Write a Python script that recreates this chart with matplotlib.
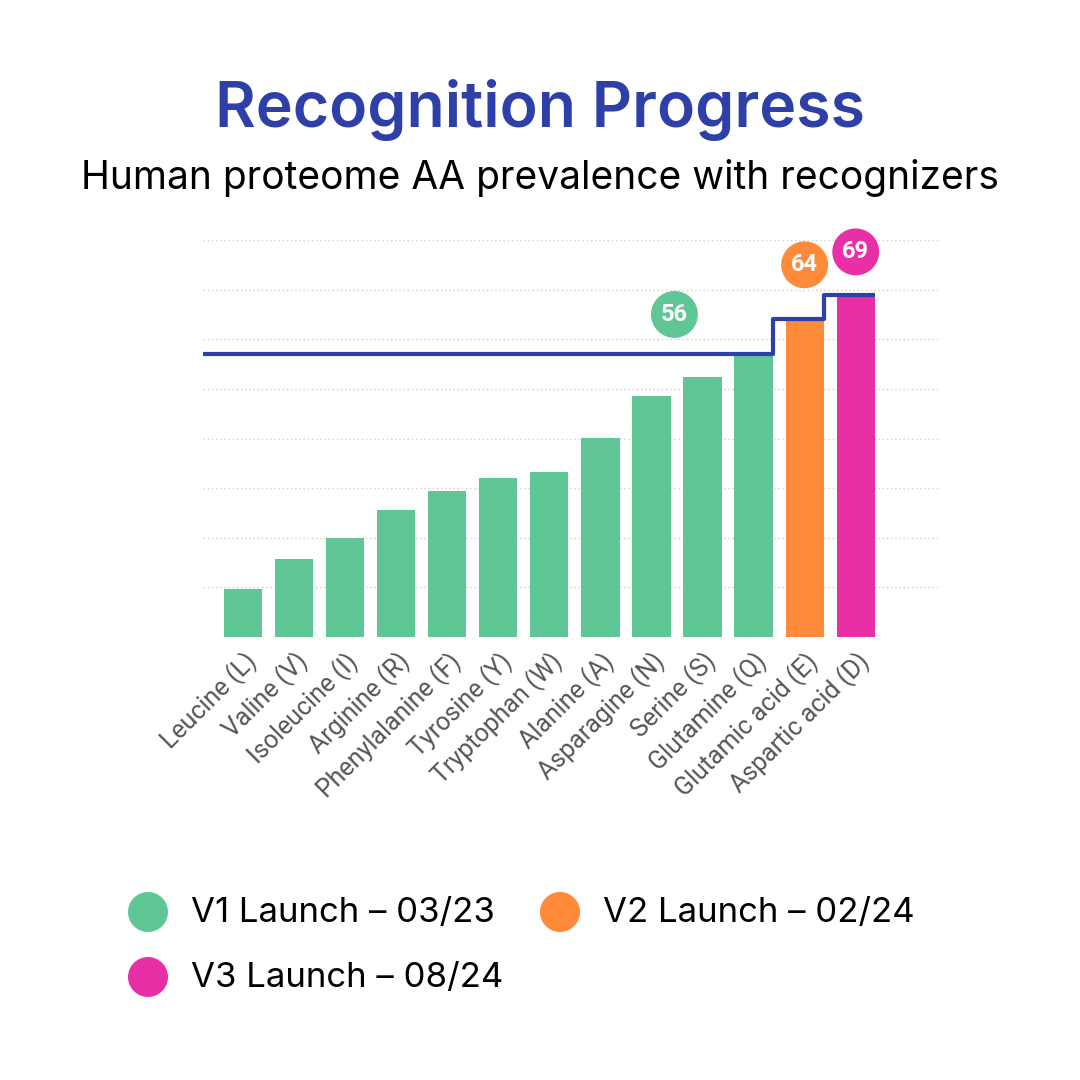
import matplotlib.pyplot as plt
from matplotlib.patches import Circle

# data
amino_acids = ["Leucine (L)", "Valine (V)", "Isoleucine (I)", "Arginine (R)",
               "Phenylalanine (F)", "Tyrosine (Y)", "Tryptophan (W)", "Alanine (A)",
               "Asparagine (N)", "Serine (S)", "Glutamine (Q)", "Glutamic acid (E)",
               "Aspartic acid (D)"]
prevalence = [9.7, 15.7, 19.9, 25.6, 29.4, 32.0, 33.2, 40.2, 48.5, 52.3, 57.0, 64.0, 69.0]
launch = [1, 1, 1, 1, 1, 1, 1, 1, 1, 1, 1, 2, 3]

launch_labels = ["V1 Launch – 03/23", "V2 Launch – 02/24", "V3 Launch – 08/24"]
launch_totals = [56, 64, 69]          # numbers shown in the bubbles
step_levels = [57, 64, 69]            # where the coverage line sits
launch_last_idx = [10, 11, 12]        # last bar covered by each launch
bubble_x = [8.45, 11.0, 12.0]
bubble_y = [65, 75, 77.6]

GREEN = "#5fc795"
ORANGE = "#ff8a3a"
PINK = "#e92fa5"
BLUE = "#2e3fa8"
colors = {1: GREEN, 2: ORANGE, 3: PINK}

plt.rcParams['font.family'] = ['Inter', 'DejaVu Sans']
narrow = ['Liberation Sans Narrow', 'Roboto', 'DejaVu Sans']

fig = plt.figure(figsize=(10.8, 10.8), dpi=100)
W = H = 1080.0
# axes area in pixels: x 203..940, y 240..637
ax = fig.add_axes([203 / W, 1 - 637 / H, (940 - 203) / W, (637 - 240) / H])

x = list(range(len(amino_acids)))
bw = 0.75
ax.bar(x, prevalence, width=bw, color=[colors[l] for l in launch], zorder=2)

# step line of cumulative coverage
sx = [-0.78]
sy = [step_levels[0]]
for k in range(len(step_levels)):
    edge = launch_last_idx[k] + bw / 2
    sx.append(edge)
    sy.append(step_levels[k])
    if k + 1 < len(step_levels):
        sx.append(edge)
        sy.append(step_levels[k + 1])
ax.plot(sx, sy, color=BLUE, lw=3, zorder=3, solid_joinstyle='round', solid_capstyle='butt')

# bubbles
for k in range(3):
    ax.scatter(bubble_x[k], bubble_y[k], s=1140, color=colors[k + 1], zorder=4, edgecolors='none',
               clip_on=False)
    ax.text(bubble_x[k], bubble_y[k], str(launch_totals[k]), color="white", fontsize=17,
            fontweight="bold", ha="center", va="center", zorder=5, family=narrow)

ax.set_xlim(-0.78, 13.65)
ax.set_ylim(0, 80)
ax.set_yticks(range(10, 81, 10))
ax.yaxis.grid(True, color="#cfcfcf", linestyle=(0, (1, 2)), lw=1, zorder=0)
ax.set_axisbelow(True)
ax.tick_params(axis='y', left=False, labelleft=False)
ax.tick_params(axis='x', length=0, pad=8)
ax.set_xticks(x)
ax.set_xticklabels(amino_acids, rotation=45, ha='right', rotation_mode='anchor',
                   fontsize=18, color="#555555", family=narrow)
for s in ax.spines.values():
    s.set_visible(False)

# title
fig.text(0.5, 1 - 110 / H, "Recognition Progress", ha="center", va="center",
         fontsize=45, fontweight="semibold", color=BLUE)
fig.text(0.5, 1 - 178 / H, "Human proteome AA prevalence with recognizers", ha="center",
         va="center", fontsize=28, color="black")

# legend drawn in pixel coords
lax = fig.add_axes([0, 0, 1, 1], zorder=-1)
lax.set_xlim(0, W)
lax.set_ylim(H, 0)
lax.axis('off')
leg_pos = [(148, 912), (560, 912), (148, 977)]
for k, (cx, cy) in enumerate(leg_pos):
    lax.add_patch(Circle((cx, cy), 20, color=colors[k + 1], lw=0))
    lax.text(cx + 43, cy + 1, launch_labels[k], fontsize=25, va="center", ha="left", color="black")

fig.savefig("out.png", dpi=100, facecolor="white")
